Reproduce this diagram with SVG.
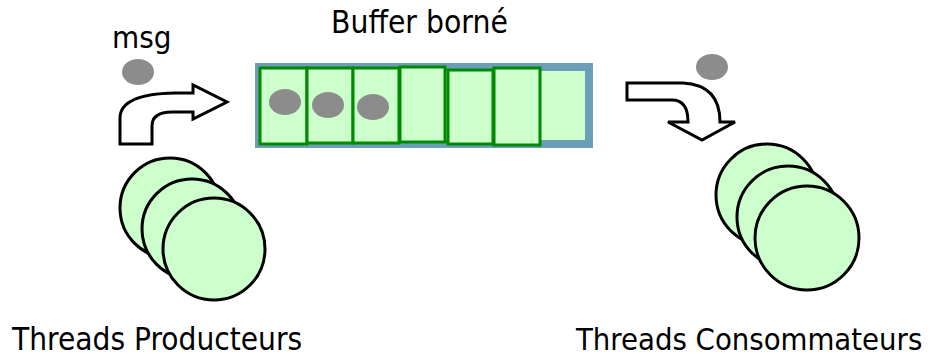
<svg xmlns="http://www.w3.org/2000/svg" width="930" height="358" viewBox="0 0 930 358">
<style>
.lbl{font-family:"DejaVu Sans Condensed","DejaVu Sans",sans-serif;fill:#000}
.th{fill:#ccffcc;stroke:#000;stroke-width:3}
.cell{fill:#ccffcc;stroke:#008a00;stroke-width:3}
.dot{fill:#8c8c8c}
.arr{fill:#fff;stroke:#000;stroke-width:3;stroke-linejoin:miter}
</style>
<rect width="930" height="358" fill="#fff"/>
<g id="buffer">
<rect x="259" y="67" width="330" height="77" fill="#ccffcc" stroke="#6b9fb9" stroke-width="8"/>
<rect class="cell" x="260" y="68" width="47" height="76"/>
<rect class="cell" x="307" y="68" width="46" height="75"/>
<rect class="cell" x="353" y="68" width="46" height="75"/>
<rect class="cell" x="400" y="67" width="45" height="75"/>
<rect class="cell" x="448" y="70" width="45" height="74"/>
<rect class="cell" x="494" y="68" width="46" height="77"/>
<ellipse class="dot" cx="285" cy="102" rx="16" ry="13"/>
<ellipse class="dot" cx="328" cy="105" rx="16" ry="13"/>
<ellipse class="dot" cx="373" cy="107" rx="16" ry="13"/>
<text class="lbl" x="331" y="33" font-size="31.5">Buffer borné</text>
</g>
<g id="msg">
<ellipse class="dot" cx="138" cy="72" rx="16" ry="13"/>
<text class="lbl" x="112" y="48" font-size="31">msg</text>
</g>
<g id="msg-out">
<ellipse class="dot" cx="712" cy="67" rx="16" ry="13"/>
</g>
<g id="producers">
<circle class="th" cx="170" cy="208" r="50"/>
<circle class="th" cx="192" cy="229" r="50"/>
<circle class="th" cx="214" cy="249" r="51"/>
<text class="lbl" x="12" y="350" font-size="31.3">Threads Producteurs</text>
</g>
<g id="consumers">
<circle class="th" cx="767" cy="195" r="51"/>
<circle class="th" cx="788" cy="217" r="51"/>
<circle class="th" cx="807" cy="238" r="52"/>
<text class="lbl" x="576" y="350" font-size="30.7">Threads Consommateurs</text>
</g>
<g id="connectors">
<path class="arr" d="M120 144 L120 118 Q120 94 175 93 L193 93 L193 85 L227 102 L193 119 L193 112 L172 112 Q152 112 152 126 L152 144 Z"/>
<path class="arr" d="M627 83 L683 83 Q720 85 720 122 L735 122 L702 140 L668 122 L688 122 Q688 100 672 100 L627 100 Z"/>
</g>
</svg>
